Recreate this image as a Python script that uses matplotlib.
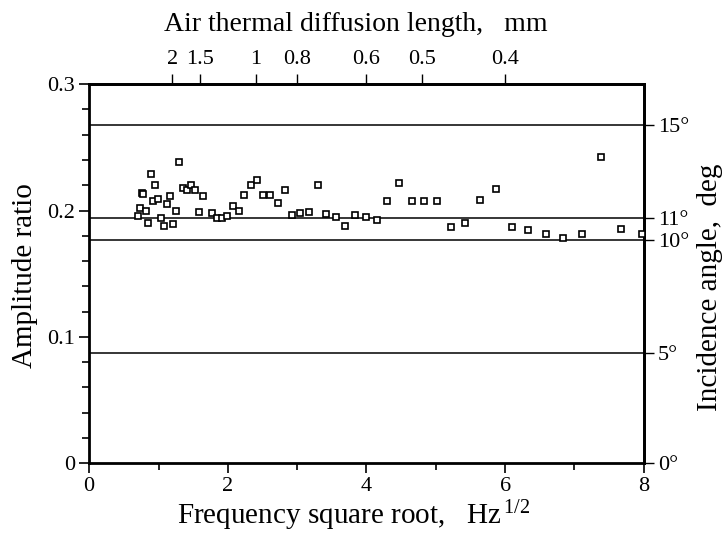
import numpy as np
import matplotlib
matplotlib.use("Agg")
import matplotlib.pyplot as plt
import matplotlib.transforms as mtransforms

plt.rcParams['font.family'] = ['Liberation Serif', 'DejaVu Serif']
plt.rcParams['mathtext.fontset'] = 'custom'
plt.rcParams['mathtext.rm'] = 'Liberation Serif'
plt.rcParams['mathtext.it'] = 'Liberation Serif:italic'

# data: frequency square root (Hz^1/2) vs amplitude ratio
sqrt_freq = [0.707, 0.727, 0.756, 0.779, 0.818, 0.851, 0.886, 0.915, 0.952, 0.996,
             1.035, 1.074, 1.117, 1.160, 1.208, 1.255, 1.299, 1.356, 1.405, 1.468,
             1.525, 1.583, 1.641, 1.771, 1.838, 1.911, 1.991, 2.074, 2.156, 2.237,
             2.329, 2.416, 2.506, 2.608, 2.720, 2.824, 2.932, 3.048, 3.166, 3.296,
             3.418, 3.556, 3.693, 3.838, 3.990, 4.147, 4.303, 4.473, 4.652, 4.830,
             5.017, 5.219, 5.414, 5.638, 5.861, 6.100, 6.335, 6.586, 6.838, 7.105,
             7.377, 7.668, 7.973]
amp_ratio = [0.1955, 0.2021, 0.2139, 0.2131, 0.1997, 0.1905, 0.2289, 0.2079, 0.2200, 0.2092,
             0.1943, 0.1876, 0.2054, 0.2119, 0.1892, 0.1997, 0.2382, 0.2176, 0.2160, 0.2206,
             0.2166, 0.1988, 0.2113, 0.1977, 0.1939, 0.1941, 0.1960, 0.2034, 0.1997, 0.2125,
             0.2200, 0.2242, 0.2126, 0.2126, 0.2058, 0.2160, 0.1967, 0.1977, 0.1988, 0.2200,
             0.1972, 0.1949, 0.1877, 0.1968, 0.1949, 0.1926, 0.2077, 0.2221, 0.2076, 0.2079,
             0.2074, 0.1866, 0.1902, 0.2081, 0.2167, 0.1866, 0.1848, 0.1814, 0.1783, 0.1813,
             0.2424, 0.1855, 0.1813]

# reference incidence angles (deg) drawn as horizontal lines; amplitude = tan(angle)
line_angles = [5, 10, 11, 15]
angle_ticks = [0, 5, 10, 11, 15]
angle_labels = ["0°", "5°", "10°", "11°", "15°"]

# top axis: air thermal diffusion length (mm) ~ k / sqrt(f)
diff_k = 2.4
diff_lengths = [2, 1.5, 1, 0.8, 0.6, 0.5, 0.4]
diff_labels = ["2", "1.5", "1", "0.8", "0.6", "0.5", "0.4"]

x_ticks = [0, 2, 4, 6, 8]
x_minor = [1, 3, 5, 7]
y_ticks = [0, 0.1, 0.2, 0.3]
y_labels = ["0", "0.1", "0.2", "0.3"]

fig = plt.figure(figsize=(7.25, 5.36), dpi=100)
ax = fig.add_axes([0.123, 0.1356, 0.765, 0.7074])

for a in line_angles:
    ax.axhline(np.tan(np.radians(a)), color='black', lw=1.1, zorder=1)

ax.plot(sqrt_freq, amp_ratio, linestyle='none', marker='s', markersize=5.0,
        markerfacecolor='white', markeredgecolor='black', markeredgewidth=1.2,
        zorder=3, clip_on=False)

ax.set_xlim(0, 8)
ax.set_ylim(0, 0.3)
ax.set_xticks(x_ticks)
ax.set_xticklabels([str(v) for v in x_ticks])
ax.set_xticks(x_minor, minor=True)
ax.set_yticks(y_ticks)
ax.set_yticklabels(y_labels)
ax.set_yticks(np.arange(0, 0.301, 0.02), minor=True)

for s in ax.spines.values():
    s.set_linewidth(2.0)

ax.tick_params(which='major', direction='out', length=7, width=1.2, labelsize=16, pad=3)
ax.tick_params(which='minor', direction='out', length=5, width=1.2)
ax.tick_params(axis='y', which='both', right=False)
ax.tick_params(axis='x', which='both', top=False)

# bottom axis label
blend = mtransforms.blended_transform_factory(ax.transData, fig.transFigure)
fig.text(1.27, 0.022, r"Frequency square root,   Hz$^{\,1/2}$", fontsize=21,
         ha='left', va='baseline', transform=blend)
# left axis label
fig.text(0.034, 0.486, "Amplitude ratio", fontsize=21, rotation=90,
         ha='center', va='center')

# top axis
top = ax.secondary_xaxis('top')
top.set_xticks([diff_k / m for m in diff_lengths])
top.set_xticklabels(diff_labels)
top.tick_params(direction='out', length=7, width=1.0, labelsize=16, pad=4)
top.spines['top'].set_linewidth(2.0)
fig.text(1.08, 1 - 31 / 536, "Air thermal diffusion length,   mm", fontsize=20,
         ha='left', va='baseline', transform=blend)

# right axis
right = ax.secondary_yaxis('right')
right.set_yticks([np.tan(np.radians(a)) for a in angle_ticks])
right.set_yticklabels(angle_labels)
right.tick_params(direction='out', length=7, width=1.0, labelsize=16, pad=3)
right.spines['right'].set_linewidth(2.0)
fig.text(0.979, 0.4636, "Incidence angle,  deg", fontsize=21, rotation=90,
         ha='center', va='center')

fig.savefig("out.png", dpi=100)
